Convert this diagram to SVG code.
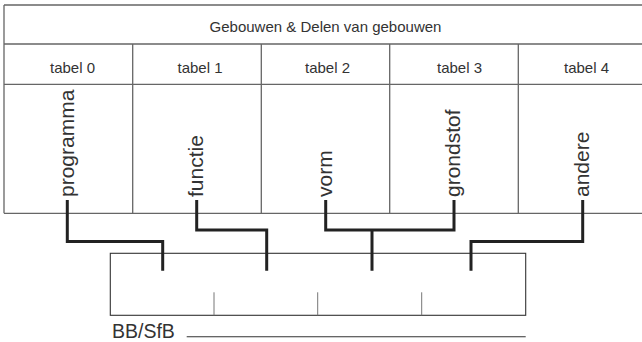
<svg xmlns="http://www.w3.org/2000/svg" width="642" height="342" viewBox="0 0 642 342">
  <style>
    .grid { stroke: #666; stroke-width: 1.3; fill: none; }
    .box { stroke: #333; stroke-width: 1.1; fill: none; }
    .div { stroke: #777; stroke-width: 1; fill: none; }
    .conn { stroke: #222; stroke-width: 3; fill: none; stroke-linejoin: miter; stroke-linecap: butt; }
    .t { font-family: "Liberation Sans", Arial, sans-serif; fill: #333; }
    .hdr { font-size: 15px; text-anchor: middle; }
    .vert { font-size: 21px; }
    .bb { font-size: 19.5px; }
  </style>
  <rect width="642" height="342" fill="#fff"/>

  <g id="table-grid">
    <path class="grid" d="M4,5 H642 M4,44 H642 M4,84.3 H642 M4,213.3 H642 M4,5 V213.3 M132.7,44 V213.3 M261.3,44 V213.3 M389.7,44 V213.3 M518.3,44 V213.3"/>
  </g>

  <g id="header">
    <text class="t hdr" x="325.5" y="32">Gebouwen &amp; Delen van gebouwen</text>
  </g>

  <g id="tabel0">
    <text class="t hdr" x="72.5" y="72.5">tabel 0</text>
    <text class="t vert" transform="translate(73.5,197) rotate(-90)">programma</text>
  </g>
  <g id="tabel1">
    <text class="t hdr" x="200" y="72.5">tabel 1</text>
    <text class="t vert" transform="translate(203,197) rotate(-90)">functie</text>
  </g>
  <g id="tabel2">
    <text class="t hdr" x="327.5" y="72.5">tabel 2</text>
    <text class="t vert" transform="translate(332,197) rotate(-90)">vorm</text>
  </g>
  <g id="tabel3">
    <text class="t hdr" x="459.5" y="72.5">tabel 3</text>
    <text class="t vert" transform="translate(460.3,197) rotate(-90)">grondstof</text>
  </g>
  <g id="tabel4">
    <text class="t hdr" x="586.5" y="72.5">tabel 4</text>
    <text class="t vert" transform="translate(589,197) rotate(-90)">andere</text>
  </g>

  <g id="bbsfb">
    <rect class="box" x="110.3" y="253.3" width="415.4" height="62"/>
    <path class="div" d="M214,292.3 V315.3 M317.7,292.3 V315.3 M421.7,292.3 V315.3"/>
    <text class="t bb" x="112" y="337.5">BB/SfB</text>
    <path class="box" d="M186.7,336.7 H525.7"/>
  </g>

  <g id="connectors">
    <path class="conn" d="M67.3,200 V241.5 H162.7 V270.7"/>
    <path class="conn" d="M196.7,200 V230 H266.7 V270.7"/>
    <path class="conn" d="M325.7,200 V230 H454 V200 M372,230 V270.7"/>
    <path class="conn" d="M582.7,200 V241.5 H471 V270.7"/>
  </g>
</svg>
